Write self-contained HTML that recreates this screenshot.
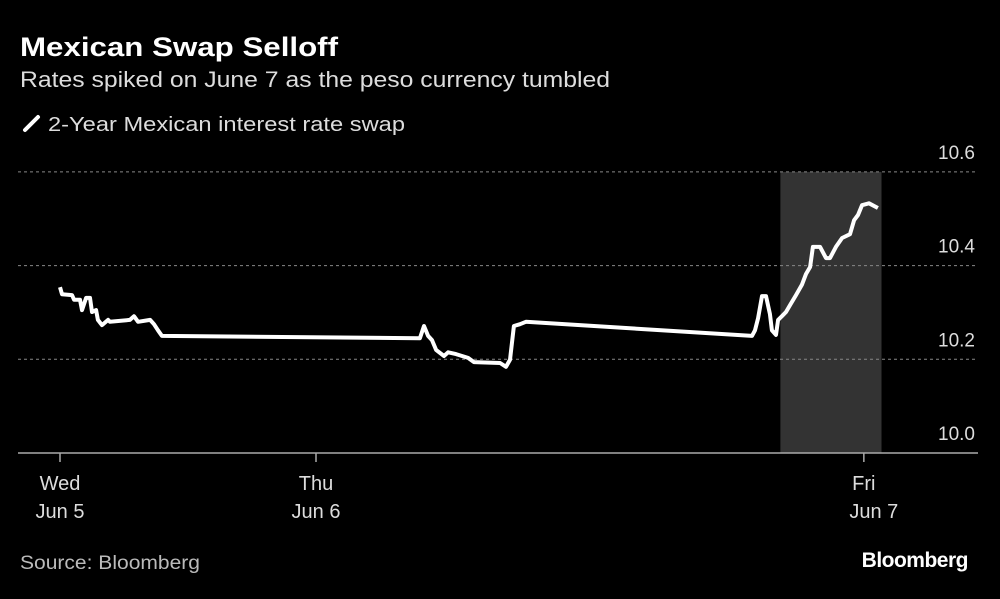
<!DOCTYPE html>
<html><head><meta charset="utf-8"><style>
body{margin:0;background:#000;width:1000px;height:594px;overflow:hidden;font-family:"Liberation Sans",sans-serif;color:#fff}
</style></head><body>
<svg width="1000" height="594" xmlns="http://www.w3.org/2000/svg" id="chart">
<text x="20" y="56" font-size="27" font-weight="bold" fill="#fff" textLength="318" lengthAdjust="spacingAndGlyphs">Mexican Swap Selloff</text>
<text x="20" y="87" font-size="22" fill="#ddd" textLength="590" lengthAdjust="spacingAndGlyphs">Rates spiked on June 7 as the peso currency tumbled</text>
<g><line x1="25" y1="130" x2="38" y2="117" stroke="#fff" stroke-width="4" stroke-linecap="round"/>
<text x="48" y="131" font-size="20" fill="#ddd" textLength="357" lengthAdjust="spacingAndGlyphs">2-Year Mexican interest rate swap</text></g>
<g id="grid"></g><g id="plot"></g>
<text x="20" y="569" font-size="19" fill="#bbb" textLength="180" lengthAdjust="spacingAndGlyphs">Source: Bloomberg</text>
<text x="968" y="567" font-size="21" font-weight="bold" fill="#fff" text-anchor="end" letter-spacing="-0.5">Bloomberg</text>
</svg>
<script>
const yTicks=[10.0,10.2,10.4,10.6];
const xTickPos=[0,1,3.14];
const xTickLine1=["Wed","Thu","Fri"];
const xTickLine2=["Jun 5","Jun 6","Jun 7"];
const shadeRange=[2.814,3.209];
const times=[0,0.008,0.047,0.055,0.078,0.086,0.102,0.117,0.125,0.141,0.148,0.164,0.188,0.195,0.273,0.289,0.305,0.352,0.367,0.383,0.398,1.406,1.422,1.438,1.453,1.469,1.5,1.516,1.547,1.594,1.617,1.719,1.742,1.758,1.773,1.797,1.82,2.703,2.715,2.727,2.742,2.758,2.773,2.781,2.797,2.805,2.82,2.836,2.852,2.875,2.898,2.914,2.93,2.941,2.969,2.992,3.008,3.031,3.055,3.086,3.102,3.117,3.133,3.16,3.195];
const values=[10.354,10.339,10.337,10.327,10.327,10.305,10.331,10.331,10.301,10.305,10.284,10.273,10.284,10.280,10.284,10.292,10.280,10.284,10.275,10.262,10.250,10.245,10.271,10.250,10.241,10.220,10.207,10.215,10.211,10.203,10.194,10.192,10.184,10.199,10.271,10.275,10.280,10.250,10.262,10.288,10.335,10.335,10.297,10.262,10.252,10.284,10.292,10.301,10.316,10.337,10.359,10.382,10.397,10.440,10.440,10.416,10.416,10.440,10.459,10.467,10.497,10.508,10.529,10.533,10.523];
const X=t=>60+t*256;
const Y=v=>453-(v-10)*468.5;
const ns="http://www.w3.org/2000/svg";
const grid=document.getElementById('grid'),plot=document.getElementById('plot');
function mk(tag,at,parent){const e=document.createElementNS(ns,tag);for(const k in at)e.setAttribute(k,at[k]);parent.appendChild(e);return e;}
const sh=mk('rect',{x:X(shadeRange[0]),y:Y(10.6),width:X(shadeRange[1])-X(shadeRange[0]),height:Y(10)-Y(10.6),fill:'#333'},grid);


yTicks.forEach(v=>{
 if(v>10){const g=mk('line',{x1:18,x2:978,y1:Y(v),y2:Y(v),stroke:'#888','stroke-width':1,'stroke-dasharray':'3,3'},grid);
 
 }
 const t=mk('text',{x:975,y:Y(v)-13,'font-size':19,fill:'#ddd','text-anchor':'end'},grid);t.textContent=v.toFixed(1);
 
 
});
const ax=mk('line',{x1:18,x2:978,y1:453,y2:453,stroke:'#aaa','stroke-width':1.5},grid);


xTickPos.forEach((p,i)=>{
 const tk=mk('line',{x1:X(p),x2:X(p),y1:453,y2:462,stroke:'#aaa','stroke-width':1.5},grid);
 
 
 const t=mk('text',{x:X(p),y:490,'font-size':20,fill:'#ddd','text-anchor':'middle'},grid);
 t.textContent=xTickLine1[i];
 
 
 const t2=mk('text',{x:X(p)+(i==2?10:0),y:518,'font-size':20,fill:'#ddd','text-anchor':'middle'},grid);
 t2.textContent=xTickLine2[i];
 
 
});
const d=times.map((t,i)=>(i?'L':'M')+X(t).toFixed(1)+','+Y(values[i]).toFixed(1)).join('');
const ln=mk('path',{d:d,fill:'none',stroke:'#fff','stroke-width':4,'stroke-linejoin':'round'},plot);


</script>
</body></html>
